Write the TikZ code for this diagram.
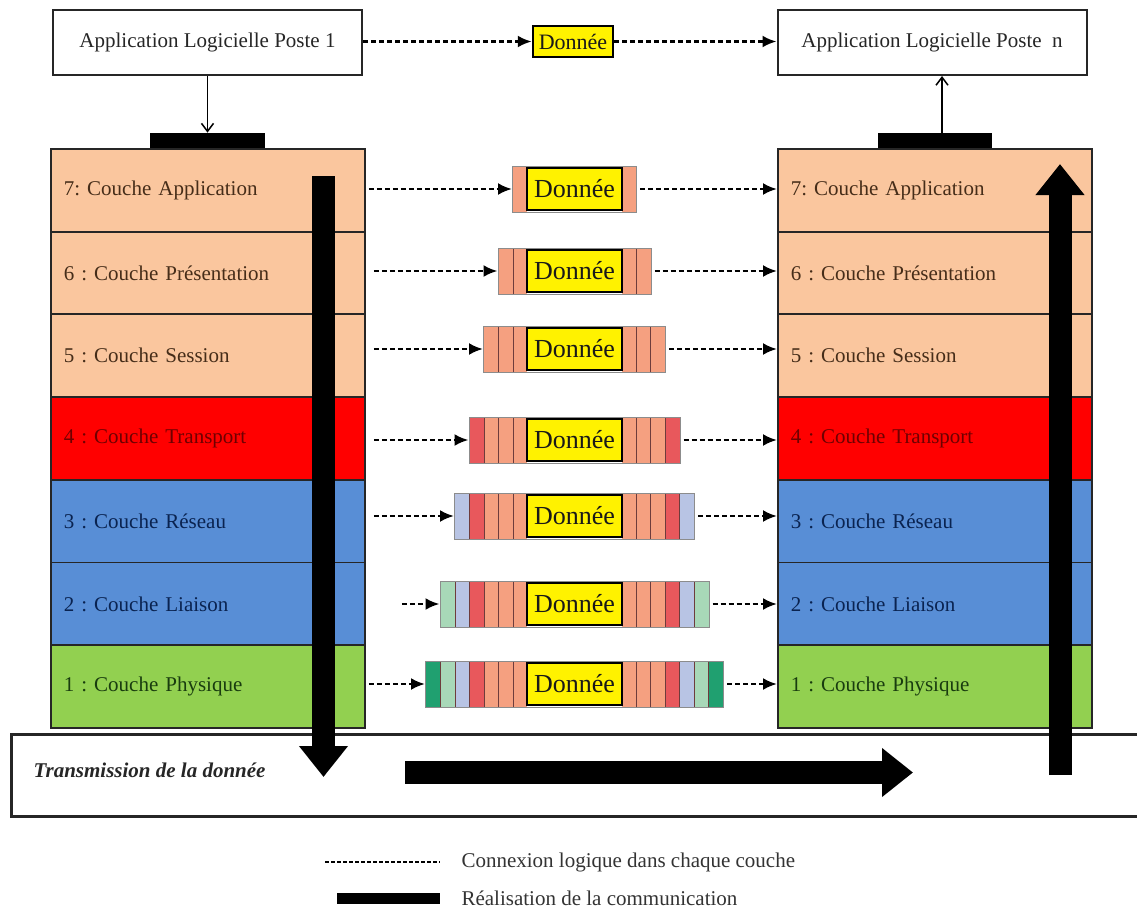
\documentclass[tikz,border=0pt]{standalone}
\usepackage{fontspec}
\setmainfont{Liberation Serif}
\frenchspacing
\usetikzlibrary{arrows.meta}
\definecolor{peach}{RGB}{250,198,158}
\definecolor{tred}{RGB}{255,0,0}
\definecolor{lblue}{RGB}{88,142,214}
\definecolor{lgreen}{RGB}{146,208,80}
\definecolor{salmon}{RGB}{245,160,128}
\definecolor{pinkred}{RGB}{232,88,92}
\definecolor{lav}{RGB}{184,196,228}
\definecolor{mint}{RGB}{168,216,184}
\definecolor{tealg}{RGB}{32,160,112}
\definecolor{sepc}{RGB}{110,60,60}
\definecolor{txbrown}{RGB}{70,45,25}
\definecolor{txred}{RGB}{110,0,0}
\definecolor{txblue}{RGB}{10,35,80}
\definecolor{txgreen}{RGB}{25,60,15}
\newcommand\mkpacket[3]{%
  \foreach \i/\cc in {1/salmon,2/salmon,3/salmon,4/pinkred,5/lav,6/mint,7/tealg}{%
    \ifnum\i>#3\relax\else
      \fill[\cc] ({527-14.5*\i},{#2-23}) rectangle ({527-14.5*(\i-1)},{#2+23});
      \fill[\cc] ({622+14.5*(\i-1)},{#2-23}) rectangle ({622+14.5*\i},{#2+23});
      \ifnum\i<#3\relax
        \draw[sepc,line width=2pt] ({527-14.5*\i},{#2-23}) -- ({527-14.5*\i},{#2+23});
        \draw[sepc,line width=2pt] ({622+14.5*\i},{#2-23}) -- ({622+14.5*\i},{#2+23});
      \fi
    \fi}%
  \node[pktout, minimum width={95+29*#3}] (#1) at (574.5,#2) {};
  \node[donnee, minimum width=95pt, minimum height=42pt, font=\fontsize{26}{28}\selectfont] (#1d) at (574.5,#2) {Donnée};
}
\begin{document}
\begin{tikzpicture}[x=1pt,y=-1pt,
  every node/.style={font=\fontsize{21}{24}\selectfont},
  layer/.style={draw=black!85, line width=1.8pt, minimum height=82.7pt, text width=288pt, inner xsep=13pt, inner ysep=0pt, align=left, anchor=north west},
  appbox/.style={draw=black!85, line width=2pt, minimum width=309pt, minimum height=65pt, text=black!85},
  donnee/.style={draw=black, line width=2.5pt, fill=yellow, inner sep=0pt, text=black!90},
  pktout/.style={draw=black!45, line width=1pt, minimum height=46pt, inner sep=0pt},
  dasharrow/.style={line width=2.5pt, dash pattern=on 5pt off 3pt, -{Latex[length=14pt,width=12pt]}},
  thinarrow/.style={line width=1.5pt, -{Straight Barb[length=8pt,width=12pt]}},
  bigarrow/.style={line width=23pt, -{Triangle[length=31pt,width=47pt]}},
  blackbar/.style={fill=black, inner sep=0pt}]
\useasboundingbox (0,0) rectangle (1137,914);
\fill[white] (0,0) rectangle (1137,914);

% top applications
\node[appbox] (A1) at (207.5,42.5) {Application Logicielle Poste 1};
\node[appbox] (A2) at (932,42.5) {Application Logicielle Poste~~n};
\node[donnee, minimum width=80pt, minimum height=31pt, font=\fontsize{22}{24}\selectfont] (D0) at (573,41.5) {Donnée};
\draw[dasharrow] (A1.east |- D0.west) -- (D0.west);
\draw[dasharrow] (D0.east) -- (D0.east -| A2.west);

\node[blackbar, minimum width=115pt, minimum height=15pt, anchor=south] (B1) at (207.5,148) {};
\node[blackbar, minimum width=114pt, minimum height=15pt, anchor=south] (B2) at (935,148) {};
\coordinate (B2a) at (942,133);
\draw[thinarrow] (A1.south) -- (B1.north);
\draw[thinarrow] (B2a) -- (B2a |- A2.south);

% left stack
\node[layer, fill=peach, text=txbrown] (L7) at (50,148) {7: Couche Application};
\node[layer, fill=peach, text=txbrown] (L6) at (50,230.7) {6 : Couche Présentation};
\node[layer, fill=peach, text=txbrown] (L5) at (50,313.4) {5 : Couche Session};
\node[layer, fill=tred, text=txred] (L4) at (50,396.1) {4 : Couche Transport};
\node[layer, fill=lblue, text=txblue] (L3) at (50,478.9) {3 : Couche Réseau};
\node[layer, fill=lblue, text=txblue] (L2) at (50,561.6) {2 : Couche Liaison};
\node[layer, fill=lgreen, text=txgreen] (L1) at (50,644.3) {1 : Couche Physique};

% right stack
\node[layer, fill=peach, text=txbrown] (R7) at (777,148) {7: Couche Application};
\node[layer, fill=peach, text=txbrown] (R6) at (777,230.7) {6 : Couche Présentation};
\node[layer, fill=peach, text=txbrown] (R5) at (777,313.4) {5 : Couche Session};
\node[layer, fill=tred, text=txred] (R4) at (777,396.1) {4 : Couche Transport};
\node[layer, fill=lblue, text=txblue] (R3) at (777,478.9) {3 : Couche Réseau};
\node[layer, fill=lblue, text=txblue] (R2) at (777,561.6) {2 : Couche Liaison};
\node[layer, fill=lgreen, text=txgreen] (R1) at (777,644.3) {1 : Couche Physique};

% packets
\mkpacket{P7}{189}{1}
\mkpacket{P6}{271}{2}
\mkpacket{P5}{349}{3}
\mkpacket{P4}{440}{4}
\mkpacket{P3}{516}{5}
\mkpacket{P2}{604}{6}
\mkpacket{P1}{684}{7}

\foreach \n/\s in {7/3,6/8,5/8,4/8,3/8,2/36,1/3}{
  \draw[dasharrow, shorten <=\s pt] (L\n.east |- P\n.west) -- (P\n.west);
  \draw[dasharrow, shorten <=3pt] (P\n.east) -- (P\n.east -| R\n.west);
}

% transmission band
\node[draw=black!85, line width=2.5pt, anchor=north west, minimum width=1140pt, minimum height=82pt, inner sep=0pt] (TX) at (10,733) {};
\node[anchor=west, font=\fontsize{21}{24}\selectfont\bfseries\itshape, text=black!85] (TT) at (30,770) {Transmission de la donnée};

\coordinate (dA) at (323.5,176);
\coordinate (dB) at (323.5,777);
\draw[bigarrow] (dA) -- (dB);
\coordinate (hA) at (405,772.5);
\coordinate (hB) at (913,772.5);
\draw[bigarrow] (hA) -- (hB);
\coordinate (uA) at (1060,775);
\coordinate (uB) at (1060,164);
\draw[bigarrow] (uA) -- (uB);

% legend
\coordinate (g1) at (325,862);
\coordinate (g2) at (440,862);
\draw[line width=1.5pt, dash pattern=on 4pt off 2pt] (g1) -- (g2);
\node[anchor=west, text=black!80] (G1) at (458,862) {Connexion logique dans chaque couche};
\node[blackbar, minimum width=103pt, minimum height=11pt] (G0) at (388.5,898) {};
\node[anchor=west, text=black!80] (G2) at (458,898) {Réalisation de la communication};
\end{tikzpicture}
\end{document}
